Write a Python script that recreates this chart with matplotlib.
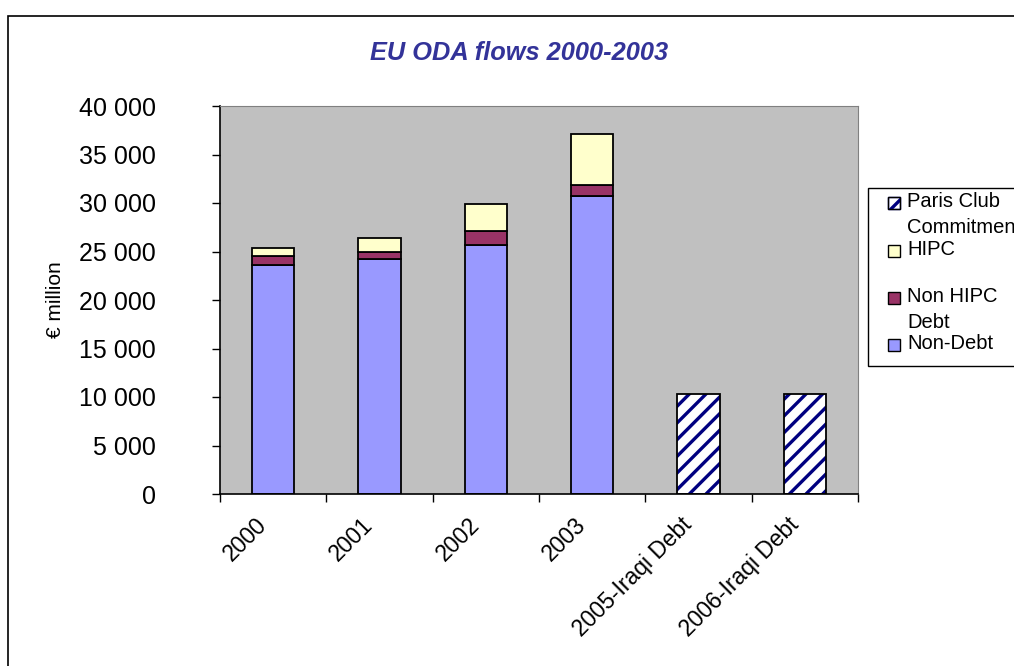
import numpy as np
import matplotlib.pyplot as plt
from matplotlib.patches import Rectangle
from matplotlib.ticker import FuncFormatter, FixedLocator
from matplotlib.transforms import ScaledTranslation

plt.rcParams['font.family'] = ['Liberation Sans', 'DejaVu Sans']
plt.rcParams['hatch.linewidth'] = 2.4

# data (EUR million)
categories = ["2000", "2001", "2002", "2003", "2005-Iraqi Debt", "2006-Iraqi Debt"]
non_debt = [23600, 24200, 25700, 30700, 0, 0]
non_hipc_debt = [900, 700, 1400, 1200, 0, 0]
hipc = [850, 1450, 2750, 5200, 0, 0]
paris_club = [0, 0, 0, 0, 10300, 10300]

c_nondebt = "#9999FF"
c_nonhipc = "#993366"
c_hipc = "#FFFFCC"
c_paris = "#000080"

fig = plt.figure(figsize=(10.14, 6.66), dpi=100)
ax = fig.add_axes([220/1014, 1-494/666, (858-220)/1014, (494-106)/666])
ax.set_facecolor("#C0C0C0")

x = np.arange(len(categories))
w = 0.4
nd = np.array(non_debt, float)
nh = np.array(non_hipc_debt, float)
hp = np.array(hipc, float)
pc = np.array(paris_club, float)

m = nd > 0
ax.bar(x[m], nd[m], w, color=c_nondebt, edgecolor="black", linewidth=1.3)
ax.bar(x[m], nh[m], w, bottom=nd[m], color=c_nonhipc, edgecolor="black", linewidth=1.3)
ax.bar(x[m], hp[m], w, bottom=(nd + nh)[m], color=c_hipc, edgecolor="black", linewidth=1.3)
m = pc > 0
ax.bar(x[m], pc[m], w, color="white", edgecolor=c_paris, hatch="//", linewidth=0)
ax.bar(x[m], pc[m], w, fill=False, edgecolor="black", linewidth=1.3)

ax.set_xlim(-0.5, len(categories) - 0.5)
ax.set_ylim(0, 40000)
ax.set_yticks(np.arange(0, 40001, 5000))
ax.yaxis.set_major_formatter(FuncFormatter(lambda v, p: f"{int(v):,}".replace(",", " ")))
ax.tick_params(axis="y", direction="out", length=6, width=1, pad=40, labelsize=18)

ax.xaxis.set_major_locator(FixedLocator(np.arange(-0.5, len(categories), 1)))
ax.xaxis.set_minor_locator(FixedLocator(x))
ax.set_xticklabels([], minor=False)
ax.set_xticklabels(categories, minor=True, rotation=45, ha="right", va="top",
                   rotation_mode="anchor", fontsize=16.5)
ax.tick_params(axis="x", which="major", direction="out", length=6, width=1)
ax.tick_params(axis="x", which="minor", length=0, pad=14)
shift = ScaledTranslation(-0.18, 0.0, fig.dpi_scale_trans)
for lab in ax.get_xticklabels(minor=True):
    lab.set_transform(lab.get_transform() + shift)

for s in ["top", "right"]:
    ax.spines[s].set_color("#808080")
ax.spines["left"].set_linewidth(1.2)
ax.spines["bottom"].set_linewidth(1.2)

ax.set_ylabel("€ million", fontsize=15)
ax.yaxis.set_label_coords(-155/638, 0.5)

fig.text(519/1014, 1-53/666, "EU ODA flows 2000-2003", ha="center", va="center",
         fontsize=18.3, fontweight="bold", fontstyle="italic", color="#333399")

# outer chart border
fig.add_artist(Rectangle((8/1014, -0.1), 2, 1.1 - 16/666, transform=fig.transFigure,
                         fill=False, edgecolor="black", linewidth=1.2))

# legend box
fig.add_artist(Rectangle((868/1014, 1-366/666), 1, (366-188)/666, transform=fig.transFigure,
                         facecolor="white", edgecolor="black", linewidth=1))
leg_labels = ["Paris Club\nCommitments", "HIPC", "Non HIPC\nDebt", "Non-Debt"]
leg_colors = ["white", c_hipc, c_nonhipc, c_nondebt]
leg_y = [203, 251, 298, 345]
for i, (lab, col, yy) in enumerate(zip(leg_labels, leg_colors, leg_y)):
    r = Rectangle((888/1014, 1-(yy+6)/666), 12/1014, 12/666, transform=fig.transFigure,
                  facecolor=col, edgecolor="black", linewidth=1)
    if i == 0:
        r.set_hatch("//")
        r.set_edgecolor(c_paris)
        fig.add_artist(r)
        r = Rectangle((888/1014, 1-(yy+6)/666), 12/1014, 12/666, transform=fig.transFigure,
                      fill=False, edgecolor="black", linewidth=1)
    fig.add_artist(r)
    fig.text(907/1014, 1-(yy-11)/666, lab, ha="left", va="top", fontsize=14.5,
             linespacing=1.45)

fig.savefig("out.png", dpi=100)
